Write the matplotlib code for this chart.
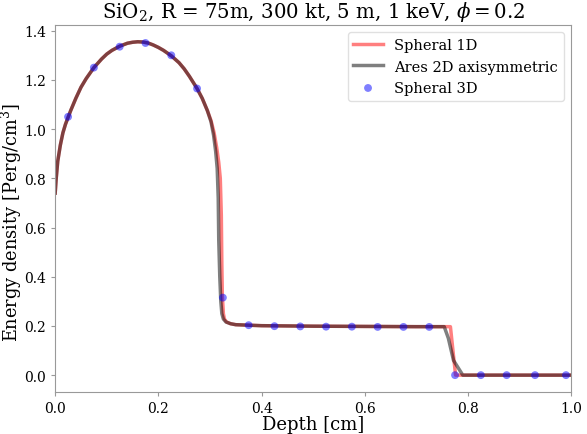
import matplotlib
matplotlib.use("Agg")

import matplotlib.pyplot as plt
import numpy as np

plt.rcParams["font.family"] = "DejaVu Serif"
plt.rcParams["mathtext.fontset"] = "dejavuserif"

# shared shape of the rising / peak part (both codes agree here)
peak_x = [0.0, 0.002, 0.005, 0.01, 0.015, 0.02, 0.03, 0.04, 0.05, 0.06,
          0.075, 0.09, 0.1, 0.11, 0.125, 0.14, 0.15, 0.16, 0.17, 0.18,
          0.19, 0.2, 0.21, 0.225, 0.24, 0.25, 0.26, 0.275, 0.285, 0.295]
peak_y = [0.74, 0.80, 0.87, 0.935, 0.985, 1.02, 1.075, 1.125, 1.17, 1.205,
          1.25, 1.285, 1.305, 1.32, 1.337, 1.349, 1.353, 1.355, 1.354, 1.35,
          1.342, 1.332, 1.32, 1.298, 1.27, 1.245, 1.215, 1.165, 1.125, 1.075]

# Spheral 1D: shock drop, plateau, second front
sph1d_tail_x = [0.302, 0.308, 0.313, 0.317, 0.32, 0.322, 0.323, 0.324, 0.326, 0.328,
                0.332, 0.34, 0.35, 0.375, 0.4, 0.5, 0.6, 0.7, 0.766, 0.776,
                0.8, 0.85, 0.9, 0.95, 1.0]
sph1d_tail_y = [1.035, 0.985, 0.925, 0.865, 0.80, 0.65, 0.45, 0.32, 0.25, 0.228,
                0.216, 0.209, 0.205, 0.203, 0.201, 0.199, 0.198, 0.197, 0.197, 0.0,
                0.0, 0.0, 0.0, 0.0, 0.0]

# Ares 2D axisymmetric: same idea, slightly earlier fronts
ares_tail_x = [0.302, 0.307, 0.311, 0.314, 0.316, 0.317, 0.319, 0.321, 0.323, 0.326,
               0.331, 0.34, 0.35, 0.375, 0.4, 0.5, 0.6, 0.7, 0.754, 0.762,
               0.772, 0.79, 0.85, 0.9, 0.95, 1.0]
ares_tail_y = [1.03, 0.975, 0.91, 0.84, 0.72, 0.55, 0.40, 0.30, 0.25, 0.228,
               0.216, 0.209, 0.205, 0.203, 0.201, 0.199, 0.198, 0.197, 0.197, 0.15,
               0.06, 0.0, 0.0, 0.0, 0.0, 0.0]

# Spheral 3D samples
s3d_x = [0.025, 0.075, 0.125, 0.175, 0.225, 0.275, 0.325, 0.375, 0.425, 0.475,
         0.525, 0.575, 0.625, 0.675, 0.725, 0.775, 0.825, 0.875, 0.93, 0.99]
s3d_y = [1.05, 1.25, 1.335, 1.35, 1.30, 1.165, 0.315, 0.203, 0.199, 0.198,
         0.197, 0.197, 0.196, 0.196, 0.196, 0.0, 0.0, 0.0, 0.0, 0.0]

sph1d_x = peak_x + sph1d_tail_x
sph1d_y = peak_y + sph1d_tail_y
ares_x = peak_x + ares_tail_x
ares_y = peak_y + ares_tail_y

fig = plt.figure(figsize=(5.87, 4.35), dpi=100)
ax = fig.add_axes([0.094, 0.097, 0.879, 0.843])

ax.plot(sph1d_x, sph1d_y, color="red", alpha=0.5, linewidth=2.5, label="Spheral 1D")
ax.plot(ares_x, ares_y, color="black", alpha=0.5, linewidth=2.5, label="Ares 2D axisymmetric")
ax.scatter(s3d_x, s3d_y, color="blue", alpha=0.5, s=32, edgecolors="none", zorder=3,
           label="Spheral 3D")

ax.set_xlim(0, 1.0)
ax.set_title(r"SiO$_2$, R = 75m, 300 kt, 5 m, 1 keV, $\phi = 0.2$", fontsize=14.2)
ax.set_xlabel("Depth [cm]", fontsize=13, labelpad=0)
ax.set_ylabel(r"Energy density [Perg/cm$^3$]", fontsize=12.8)
ax.yaxis.set_label_coords(-0.0595, 0.465)
ax.tick_params(labelsize=10, length=3, color="0.6")
for sp in ax.spines.values():
    sp.set_color("0.6")
ax.legend(loc="upper right", fontsize=10.5, edgecolor="0.85")

fig.savefig("out.png", dpi=100)
